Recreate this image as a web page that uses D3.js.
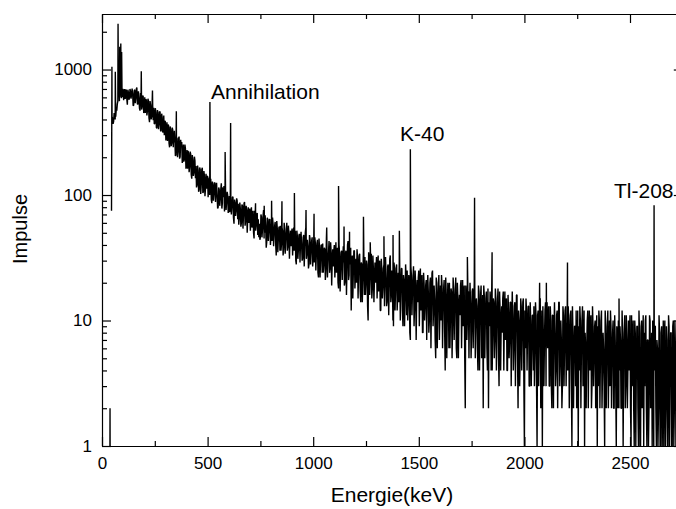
<!DOCTYPE html>
<html>
<head>
<meta charset="utf-8">
<script src="https://cdn.jsdelivr.net/npm/d3@7"></script>
<style>
  body { margin: 0; background: #fff; }
  svg { display: block; }
  text { font-family: "Liberation Sans", Arial, Helvetica, sans-serif; }
</style>
</head>
<body>
<svg id="chart" width="676" height="509"></svg>
<script>
// ---- data ----
const startEnergy = 45;   // keV of first channel in countsA
const stepEnergy = 5;     // keV between successive values of one array
const offsetB = 2.5;      // countsB channels sit half a step later
const countsA = [
  75, 410, 385, 440, 420, 470, 560, 720, 600, 760,
  606, 700, 632, 582, 686, 525, 658, 594, 672, 632,
  650, 520, 690, 590, 720, 530, 600, 470, 630, 505,
  610, 470, 450, 570, 465, 565, 380, 520, 420, 515,
  495, 372, 455, 340, 455, 365, 460, 325, 415, 330,
  300, 385, 305, 270, 362, 240, 335, 258, 330, 262,
  272, 208, 282, 220, 292, 202, 245, 180, 252, 192,
  235, 172, 162, 215, 168, 212, 135, 192, 150, 188,
  170, 120, 158, 110, 160, 122, 165, 106, 142, 112,
  112, 142, 118, 100, 135, 86, 122, 102, 124, 108,
  99, 80, 111, 92, 124, 86, 96, 74, 107, 89,
  100, 78, 73, 93, 81, 97, 59, 87, 75, 90,
  85, 65, 78, 60, 82, 70, 88, 62, 76, 67,
  60, 78, 64, 55, 75, 45, 69, 57, 72, 64,
  59, 46, 67, 54, 76, 50, 57, 42, 64, 52,
  64, 47, 43, 59, 49, 61, 33, 54, 45, 56,
  57, 41, 52, 37, 54, 45, 60, 39, 49, 43,
  39, 54, 43, 36, 52, 28, 47, 37, 49, 43,
  41, 31, 48, 38, 55, 34, 39, 28, 45, 36,
  46, 32, 29, 42, 34, 44, 22, 38, 31, 40,
  41, 28, 37, 25, 39, 31, 43, 26, 35, 29,
  27, 40, 30, 24, 38, 18, 34, 26, 36, 30,
  29, 20, 36, 26, 43, 23, 28, 12, 33, 24,
  36, 23, 20, 32, 25, 34, 14, 28, 22, 30,
  32, 20, 28, 10, 30, 22, 34, 18, 26, 21,
  20, 32, 23, 17, 30, 12, 26, 18, 28, 23,
  22, 14, 28, 19, 33, 16, 20, 9, 26, 18,
  28, 16, 14, 24, 18, 26, 9, 21, 15, 22,
  25, 14, 21, 7, 23, 17, 27, 13, 20, 15,
  14, 25, 17, 12, 23, 8, 20, 13, 21, 17,
  17, 10, 22, 14, 25, 12, 15, 5, 20, 13,
  23, 12, 10, 19, 13, 21, 4, 16, 11, 17,
  20, 11, 17, 9, 18, 13, 22, 5, 15, 12,
  11, 21, 13, 9, 19, 2, 16, 10, 17, 13,
  14, 8, 18, 12, 21, 10, 13, 4, 17, 11,
  19, 9, 2, 16, 10, 17, 4, 2, 9, 14,
  16, 8, 14, 7, 15, 10, 18, 3, 12, 9,
  8, 17, 10, 7, 15, 4, 12, 7, 14, 10,
  11, 6, 14, 9, 16, 2, 10, 5, 13, 8,
  15, 1, 6, 12, 8, 13, 3, 10, 6, 11,
  13, 6, 11, 1, 12, 8, 15, 6, 1, 7,
  7, 14, 8, 6, 13, 3, 10, 2, 11, 8,
  8, 4, 12, 7, 14, 5, 7, 3, 11, 6,
  13, 6, 4, 10, 6, 12, 1, 8, 5, 9,
  12, 5, 1, 4, 10, 6, 13, 4, 1, 6,
  6, 12, 7, 4, 11, 3, 9, 5, 10, 7,
  1, 3, 10, 5, 12, 4, 6, 1, 9, 5,
  12, 5, 3, 9, 5, 10, 2, 7, 1, 8,
  10, 4, 7, 2, 8, 5, 11, 3, 7, 4,
  4, 11, 1, 3, 10, 1, 8, 4, 9, 1,
  8, 1, 10, 5, 1, 3, 11, 1, 7, 2,
  10, 3, 1, 8, 4, 9, 1, 6, 2, 8,
  1, 9, 3, 1, 10, 2, 7, 1, 9, 4,
  8, 1, 10, 2, 6, 1, 9, 3, 1, 7,
  5
];
const countsB = [
  420, 370, 450, 400, 480, 530, 780, 560, 820, 590,
  690, 570, 700, 690, 580, 690, 575, 700, 585, 705,
  515, 680, 540, 700, 530, 670, 490, 650, 480, 620,
  450, 600, 580, 430, 585, 410, 560, 400, 545, 395,
  368, 492, 345, 475, 335, 462, 322, 445, 315, 430,
  390, 272, 380, 362, 258, 352, 245, 345, 240, 325,
  205, 290, 200, 282, 195, 275, 265, 190, 185, 252,
  162, 228, 225, 152, 222, 145, 208, 142, 202, 136,
  115, 172, 106, 166, 102, 160, 104, 155, 98, 148,
  140, 96, 138, 130, 92, 128, 90, 126, 88, 125,
  78, 115, 82, 112, 78, 108, 118, 102, 76, 106,
  72, 98, 95, 70, 96, 66, 92, 68, 94, 64,
  58, 87, 56, 84, 54, 86, 57, 82, 50, 80,
  72, 52, 80, 68, 50, 75, 52, 70, 48, 46,
  44, 70, 46, 68, 45, 69, 38, 66, 43, 64,
  40, 60, 66, 39, 57, 40, 62, 35, 55, 36,
  36, 55, 33, 60, 34, 51, 36, 57, 31, 52,
  50, 33, 55, 46, 30, 52, 31, 48, 29, 51,
  30, 46, 27, 50, 31, 44, 26, 48, 28, 43,
  27, 42, 46, 25, 41, 24, 45, 22, 40, 24,
  24, 38, 21, 45, 22, 35, 24, 42, 19, 37,
  36, 22, 42, 33, 20, 40, 17, 35, 21, 39,
  19, 34, 16, 40, 21, 32, 38, 29, 15, 36,
  18, 31, 37, 15, 33, 17, 29, 14, 35, 16,
  16, 30, 13, 35, 16, 28, 15, 33, 14, 29,
  27, 15, 33, 29, 12, 31, 15, 26, 13, 32,
  13, 27, 11, 31, 14, 25, 10, 29, 12, 26,
  12, 24, 29, 10, 26, 12, 23, 9, 28, 11,
  10, 23, 8, 27, 11, 22, 9, 25, 7, 21,
  22, 9, 26, 20, 8, 24, 10, 19, 7, 23,
  8, 20, 6, 24, 9, 19, 7, 22, 6, 18,
  7, 19, 23, 6, 18, 8, 22, 5, 20, 6,
  6, 18, 5, 22, 7, 17, 6, 20, 5, 16,
  19, 6, 21, 16, 5, 19, 7, 17, 5, 20,
  5, 17, 6, 20, 5, 15, 6, 19, 4, 16,
  5, 16, 19, 5, 15, 6, 18, 14, 17, 4,
  4, 15, 5, 18, 4, 14, 5, 17, 4, 13,
  15, 4, 17, 13, 4, 16, 5, 14, 3, 17,
  4, 13, 3, 16, 5, 12, 3, 15, 4, 14,
  3, 12, 15, 4, 13, 3, 14, 3, 11, 4,
  3, 14, 3, 11, 3, 15, 2, 12, 13, 3,
  12, 3, 14, 10, 3, 13, 3, 11, 2, 14,
  3, 11, 2, 14, 3, 10, 2, 13, 3, 12,
  3, 10, 13, 2, 11, 3, 13, 2, 9, 3,
  2, 12, 9, 13, 2, 10, 3, 12, 8, 2,
  10, 2, 12, 9, 2, 13, 3, 9, 2, 11,
  9, 12, 2, 10, 2, 8, 3, 12, 2, 9,
  2, 10, 12, 2, 8, 2, 11, 3, 9, 2,
  2, 9, 2, 12, 1, 8, 2, 11, 2, 10,
  8, 2, 11, 7, 2, 10, 1, 9, 2, 12,
  1, 9, 2, 11, 8, 10, 2, 7, 1, 11,
  2, 8, 10, 1, 9, 2, 7, 1, 11, 1,
  8, 1, 10, 7, 1, 9, 1, 11, 1, 8,
  1, 9, 1, 10, 1, 8, 2, 10, 7, 1
];
// isolated low-energy channels before the main spectrum (0 = empty channel)
const tailEnergies = [37.6, 38.0, 38.4, 41];
const tailCounts   = [1, 2, 1, 0];
// gamma lines (peak energy keV, peak counts)
const peakEnergies = [47, 63, 76, 84, 89, 93, 186, 239, 295, 338, 352, 511, 570, 583, 609,
  727, 768, 803, 852, 911, 966, 1004, 1064, 1120, 1146, 1172, 1238, 1270, 1335, 1378, 1408,
  1460, 1730, 1764, 1847, 2072, 2104, 2204, 2448, 2614];
const peakCounts = [1050, 960, 2320, 1520, 1610, 1380, 970, 680, 383, 300, 466, 550, 115, 220, 375,
  86, 82, 90, 89, 104, 76, 71, 55, 118, 56, 51, 67, 42, 47, 48, 52,
  232, 32, 95, 35, 20, 20, 29, 15, 83];

const xMajorTicks = [0, 500, 1000, 1500, 2000, 2500];
const xMinorTicks = [250, 750, 1250, 1750, 2250];
const yMajorTicks = [1, 10, 100, 1000];
const yMinorTicks = [2,3,4,5,6,7,8,9,20,30,40,50,60,70,80,90,200,300,400,500,600,700,800,900,2000];
const xTitle = "Energie(keV)";
const yTitle = "Impulse";
const peakLabels = ["Annihilation", "K-40", "Tl-208"];

// ---- layout ----
const L = 102, R = 682.8, T = 14, B = 446;
const svg = d3.select("#chart");
const x = d3.scaleLinear().domain([0, 2750]).range([L, R]);
const y = d3.scaleLog().domain([1, 2770]).range([B, T]);

// build the series
const spectrum = countsA.map((c, i) => ({ e: startEnergy + i * stepEnergy, c }));
countsB.forEach((c, i) => spectrum.push({ e: startEnergy + offsetB + i * stepEnergy, c }));
peakEnergies.forEach((e, i) => spectrum.push({ e, c: peakCounts[i] }));
spectrum.sort((a, b) => a.e - b.e);
const series = tailEnergies.map((e, i) => ({ e, c: tailCounts[i] })).concat(spectrum);

svg.append("defs").append("clipPath").attr("id", "plotclip")
  .append("rect").attr("x", L).attr("y", T).attr("width", R - L).attr("height", B - T + 0.5);

const line = d3.line().defined(d => d.c > 0).x(d => x(d.e)).y(d => y(d.c));
svg.append("path").datum(series)
  .attr("clip-path", "url(#plotclip)")
  .attr("fill", "none").attr("stroke", "#000").attr("stroke-width", 1.4)
  .attr("stroke-linejoin", "bevel").attr("d", line);

function styleAxis(g, fs) {
  g.attr("font-size", fs).attr("font-family", '"Liberation Sans", Arial, sans-serif');
  g.selectAll("path.domain").attr("stroke", "#000").attr("stroke-width", 1.2);
  g.selectAll("line").attr("stroke", "#000").attr("stroke-width", 1.2);
  g.selectAll("text").attr("fill", "#000");
}

// bottom
const gb = svg.append("g").attr("transform", `translate(0,${B})`)
  .call(d3.axisBottom(x).tickValues(xMajorTicks).tickSize(-9).tickSizeOuter(0).tickPadding(11).tickFormat(d3.format("d")));
styleAxis(gb, 17);
const gbm = svg.append("g").attr("transform", `translate(0,${B})`)
  .call(d3.axisBottom(x).tickValues(xMinorTicks).tickSize(-5).tickSizeOuter(0).tickFormat(""));
gbm.select("path.domain").remove(); styleAxis(gbm, 17);
// top
const gt = svg.append("g").attr("transform", `translate(0,${T})`)
  .call(d3.axisTop(x).tickValues(xMajorTicks).tickSize(-9).tickSizeOuter(0).tickFormat(""));
styleAxis(gt, 17);
const gtm = svg.append("g").attr("transform", `translate(0,${T})`)
  .call(d3.axisTop(x).tickValues(xMinorTicks).tickSize(-5).tickSizeOuter(0).tickFormat(""));
gtm.select("path.domain").remove(); styleAxis(gtm, 17);
// left
const gl = svg.append("g").attr("transform", `translate(${L},0)`)
  .call(d3.axisLeft(y).tickValues(yMajorTicks).tickSize(-9).tickSizeOuter(0).tickPadding(10).tickFormat(d3.format("d")));
styleAxis(gl, 17);
const glm = svg.append("g").attr("transform", `translate(${L},0)`)
  .call(d3.axisLeft(y).tickValues(yMinorTicks).tickSize(-5).tickSizeOuter(0).tickFormat(""));
glm.select("path.domain").remove(); styleAxis(glm, 17);
// right
const gr = svg.append("g").attr("transform", `translate(${R},0)`)
  .call(d3.axisRight(y).tickValues(yMajorTicks).tickSize(-9).tickSizeOuter(0).tickFormat(""));
styleAxis(gr, 17);
const grm = svg.append("g").attr("transform", `translate(${R},0)`)
  .call(d3.axisRight(y).tickValues(yMinorTicks).tickSize(-5).tickSizeOuter(0).tickFormat(""));
grm.select("path.domain").remove(); styleAxis(grm, 17);

// titles
svg.append("text").attr("x", 392).attr("y", 502).attr("text-anchor", "middle")
  .attr("font-size", 21).attr("fill", "#000").text(xTitle);
svg.append("text").attr("transform", "translate(27,229) rotate(-90)").attr("text-anchor", "middle")
  .attr("font-size", 20).attr("fill", "#000").text(yTitle);

// peak annotations
const labelPos = [[211, 99], [400, 141], [614, 198]];
peakLabels.forEach((t, i) => {
  svg.append("text").attr("x", labelPos[i][0]).attr("y", labelPos[i][1])
    .attr("font-size", 21).attr("fill", "#000").text(t);
});
</script>
</body>
</html>
